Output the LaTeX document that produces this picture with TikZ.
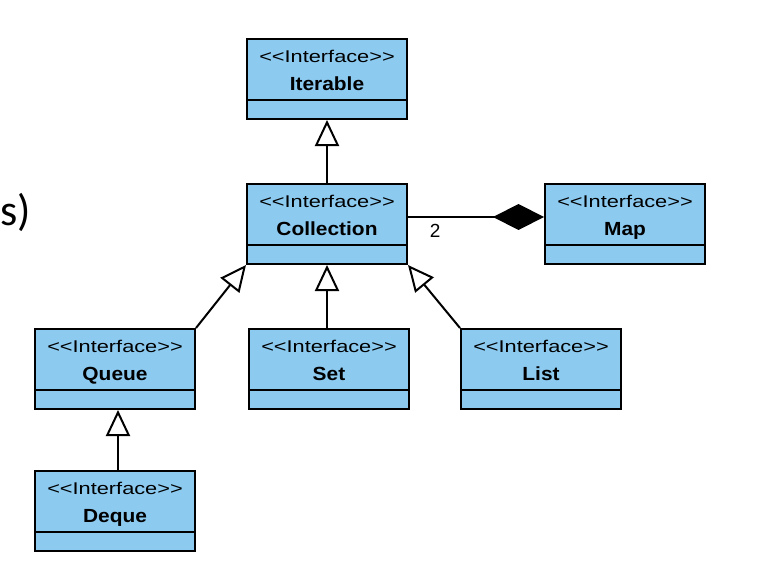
\documentclass[tikz,border=0pt]{standalone}
\usepackage{fontspec}
\setmainfont{Liberation Sans}
\newfontfamily\widefont[FakeStretch=1.28]{Liberation Sans}
\newfontfamily\namefont[FakeStretch=1.1]{Liberation Sans}
\newfontfamily\calibri{Carlito}
\usepackage{tikz}
\usetikzlibrary{arrows.meta,positioning,calc}
\definecolor{ifblue}{RGB}{140,202,240}

\begin{document}
\begin{tikzpicture}[x=1pt,y=-1pt,line width=2pt,
                    iface/.style={rectangle,draw,fill=ifblue,minimum width=160pt,minimum height=80pt,inner sep=0pt},
                    stereo/.style={anchor=base,inner sep=0pt,font=\widefont\fontsize{17}{17}\selectfont},
                    ifname/.style={anchor=base,inner sep=0pt,font=\namefont\bfseries\fontsize{19}{19}\selectfont},
                    gen/.style={-{Triangle[open,fill=white,length=26pt,width=24pt]}},
                    comp/.style={-{Diamond[length=51pt,width=26pt]}}]

  \useasboundingbox (0,0) rectangle (782,562);

  % interface boxes
  \foreach \n/\p/\t in {iter/{327,79}/Iterable, coll/{327,224}/Collection,
                        map/{625,224}/Map, queue/{115,369}/Queue,
                        set/{329,369}/Set, list/{541,369}/List, deque/{115,511}/Deque}{
    \node[iface] (\n) at (\p) {};
    \node[stereo] (\n-s) at ([yshift=-24]\n.north) {<<Interface>>};
    \node[ifname] (\n-t) at ([yshift=-52]\n.north) {\t};
    \draw ([yshift=20]\n.south west) -- ([yshift=20]\n.south east);
  }

  % generalizations
  \draw[gen] (coll.north) -- (iter.south);
  \draw[gen] (set.north -| coll.south) -- (coll.south);
  \draw[gen] (queue.north east) -- (coll.south west);
  \draw[gen] (list.north west) -- (coll.south east);
  \draw[gen] ([xshift=3]deque.north) -- ([xshift=3]queue.south);

  % composition
  \draw[comp] ([yshift=7]coll.east) -- node[pos=0.2,below=6pt,inner sep=0pt,font=\fontsize{19}{19}\selectfont] (mult) {2} ([yshift=7]map.west);

  \node[anchor=base east,inner sep=0pt,font=\calibri\fontsize{44}{44}\selectfont] (frag) at (32,225) {s)};
\end{tikzpicture}
\end{document}
